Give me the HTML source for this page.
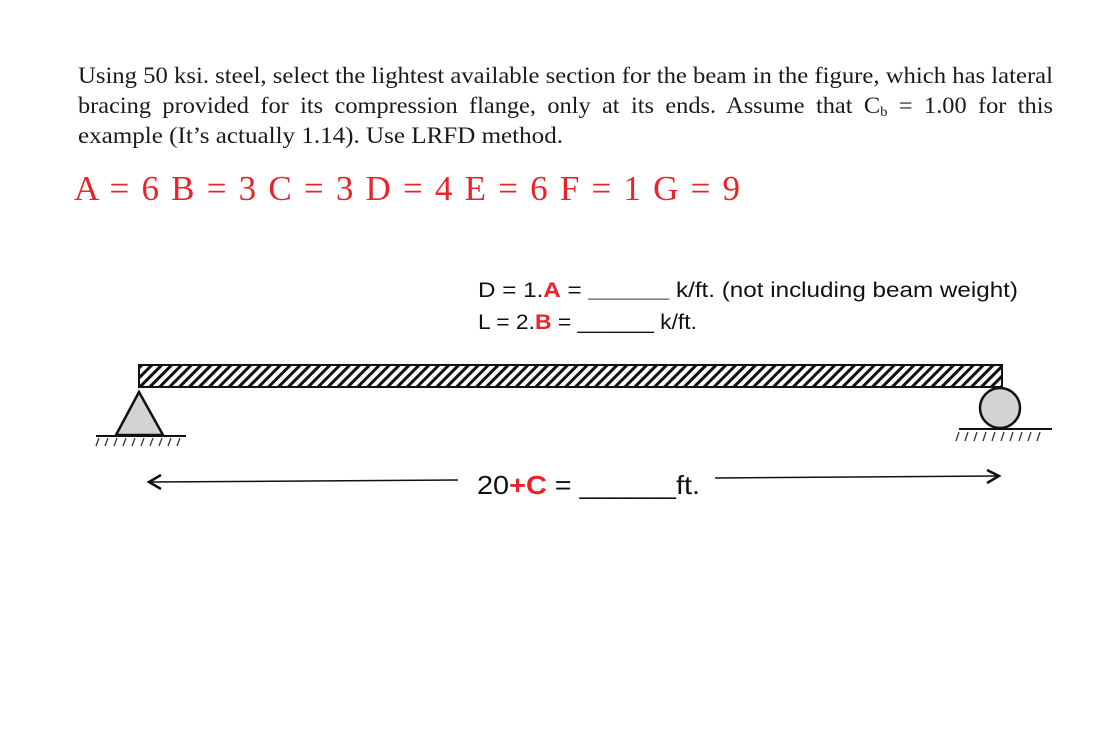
<!DOCTYPE html>
<html><head><meta charset="utf-8"><style>
html,body{margin:0;padding:0;background:#fff;}
svg{display:block;}
.s{font-family:"Liberation Serif",serif;font-size:23px;fill:#1a1a1a;}
.r{font-family:"Liberation Serif",serif;font-size:35px;fill:#e8232a;}
.c{font-family:"Liberation Sans",sans-serif;font-size:21px;fill:#111;}
.b{font-family:"Liberation Sans",sans-serif;font-size:26px;fill:#111;}
.red{fill:#e8232a;font-weight:bold;}
</style></head><body>
<svg width="1105" height="732" viewBox="0 0 1105 732" xmlns="http://www.w3.org/2000/svg">
<defs>
<pattern id="h" width="7" height="7" patternUnits="userSpaceOnUse" patternTransform="rotate(45)">
<rect width="7" height="7" fill="#fff"/><rect width="3" height="7" fill="#111"/>
</pattern>
</defs>
<text class="s" x="78" y="83" textLength="975" lengthAdjust="spacingAndGlyphs">Using 50 ksi. steel, select the lightest available section for the beam in the figure, which has lateral</text>
<text class="s" x="78" y="113" word-spacing="5" textLength="975" lengthAdjust="spacingAndGlyphs">bracing provided for its compression flange, only at its ends. Assume that C<tspan font-size="14" dy="3">b</tspan><tspan dy="-3"> = 1.00 for this</tspan></text>
<text class="s" x="78" y="143" textLength="485" lengthAdjust="spacingAndGlyphs">example (It’s actually 1.14). Use LRFD method.</text>
<text class="r" x="74" y="200" textLength="666" lengthAdjust="spacing">A = 6  B = 3  C = 3  D = 4  E = 6  F = 1  G = 9</text>

<text class="c" x="478" y="297" textLength="540" lengthAdjust="spacingAndGlyphs">D = 1.<tspan class="red">A</tspan> = <tspan font-weight="bold" fill="#000">______</tspan> k/ft. (not including beam weight)</text>
<text class="c" x="478" y="329" textLength="219" lengthAdjust="spacingAndGlyphs">L = 2.<tspan class="red">B</tspan> = ______ k/ft.</text>

<rect x="139" y="365" width="863" height="22" fill="url(#h)" stroke="#111" stroke-width="2"/>
<polygon points="139,392 116,435 163,435" fill="#d3d3d3" stroke="#111" stroke-width="2.5"/>
<line x1="96" y1="436" x2="186" y2="436" stroke="#111" stroke-width="2"/>
<g stroke="#333" stroke-width="1.3">
<line x1="96" y1="446" x2="99" y2="438"/><line x1="105" y1="446" x2="108" y2="438"/><line x1="114" y1="446" x2="117" y2="438"/><line x1="123" y1="446" x2="126" y2="438"/><line x1="132" y1="446" x2="135" y2="438"/><line x1="141" y1="446" x2="144" y2="438"/><line x1="150" y1="446" x2="153" y2="438"/><line x1="159" y1="446" x2="162" y2="438"/><line x1="168" y1="446" x2="171" y2="438"/><line x1="177" y1="446" x2="180" y2="438"/>
</g>
<circle cx="1000" cy="408" r="20" fill="#d3d3d3" stroke="#111" stroke-width="2.5"/>
<line x1="959" y1="429" x2="1052" y2="429" stroke="#111" stroke-width="2"/>
<g stroke="#333" stroke-width="1.3">
<line x1="956" y1="441" x2="959" y2="432"/><line x1="965" y1="441" x2="968" y2="432"/><line x1="974" y1="441" x2="977" y2="432"/><line x1="983" y1="441" x2="986" y2="432"/><line x1="992" y1="441" x2="995" y2="432"/><line x1="1001" y1="441" x2="1004" y2="432"/><line x1="1010" y1="441" x2="1013" y2="432"/><line x1="1019" y1="441" x2="1022" y2="432"/><line x1="1028" y1="441" x2="1031" y2="432"/><line x1="1037" y1="441" x2="1040" y2="432"/>
</g>

<line x1="150" y1="482" x2="458" y2="480" stroke="#111" stroke-width="1.5"/>
<polyline points="161,475 149,482 161,489" fill="none" stroke="#111" stroke-width="2.5"/>
<text class="b" x="477" y="494" textLength="223" lengthAdjust="spacingAndGlyphs">20<tspan fill="#e8232a" font-weight="bold">+C</tspan> = ______ft.</text>
<line x1="715" y1="478" x2="998" y2="476" stroke="#111" stroke-width="1.5"/>
<polyline points="987,470 999,476 987,483" fill="none" stroke="#111" stroke-width="2.5"/>
</svg>
</body></html>
